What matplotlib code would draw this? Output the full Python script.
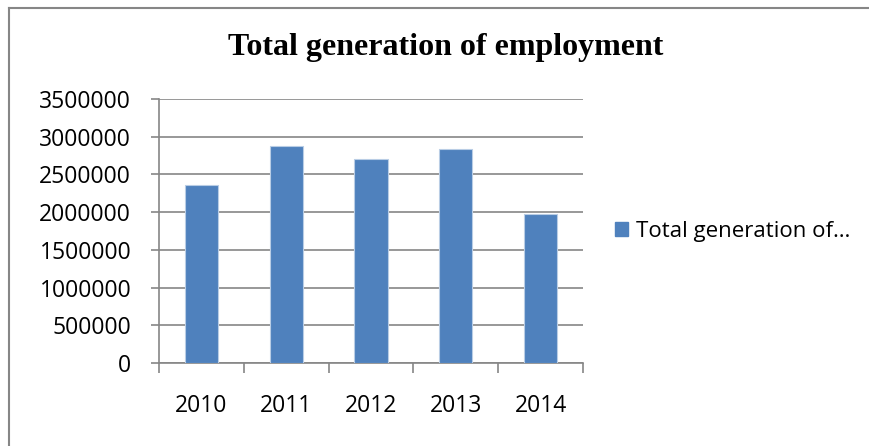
import matplotlib.pyplot as plt
from matplotlib.lines import Line2D

years = ['2010', '2011', '2012', '2013', '2014']
employment = [2365000, 2873000, 2709000, 2833000, 1975000]
series_name = 'Total generation of employment'
legend_label = 'Total generation of\u2026'
y_ticks = [0, 500000, 1000000, 1500000, 2000000, 2500000, 3000000, 3500000]

W, H = 870, 446
fig = plt.figure(figsize=(W / 100, H / 100), dpi=100)

# plot area in pixels: x 159..583, y 99..363
ax = fig.add_axes([159 / W, 1 - 363 / H, (583 - 159) / W, (363 - 99) / H])

grid_col = '#868686'
x = range(len(years))
ax.bar(x, employment, width=0.39, color='#4f81bd', edgecolor='#b9cde5', linewidth=0.8, zorder=3,
       label=legend_label)

ax.set_xlim(-0.5, len(years) - 0.5)
ax.set_ylim(0, 3500000)
ax.set_yticks(y_ticks)
ax.set_yticklabels([str(v) for v in y_ticks])
ax.set_xticks([i - 0.5 for i in range(len(years) + 1)], minor=False)
ax.set_xticklabels([''] * (len(years) + 1))
ax.set_xticks(list(x), minor=True)
ax.set_xticklabels(years, minor=True)

ax.yaxis.grid(True, color=grid_col, linewidth=1.2, zorder=0)
for s in ['top', 'right']:
    ax.spines[s].set_visible(False)
for s in ['left', 'bottom']:
    ax.spines[s].set_color(grid_col)
    ax.spines[s].set_linewidth(1.2)

ax.tick_params(axis='y', which='major', direction='out', length=6, width=1.2, color=grid_col,
               labelsize=16.5, pad=14)
ax.tick_params(axis='x', which='major', direction='out', length=7, width=1.2, color=grid_col)
ax.tick_params(axis='x', which='minor', length=0, labelsize=16.5, pad=22)
for lab in ax.get_yticklabels() + ax.get_xticklabels(minor=True):
    lab.set_fontfamily('Open Sans')

fig.text(446 / W, 1 - 47 / H, series_name, ha='center', va='center', fontsize=23,
         fontweight='bold', family='Liberation Serif')

leg = fig.legend(handles=[plt.Rectangle((0, 0), 1, 1, color='#4f81bd')], labels=[legend_label],
                 loc='center left', bbox_to_anchor=(595 / W, 1 - 231 / H), frameon=False,
                 handlelength=0.6, handleheight=0.6, handletextpad=0.35,
                 prop={'family': 'Open Sans', 'size': 16})

# chart border (cropped on right and bottom)
fig.add_artist(Line2D([9 / W, 1], [1 - 8 / H, 1 - 8 / H], color='#868686', linewidth=1.5))
fig.add_artist(Line2D([9 / W, 9 / W], [0, 1 - 8 / H], color='#868686', linewidth=1.5))

fig.savefig('out.png', dpi=100)
